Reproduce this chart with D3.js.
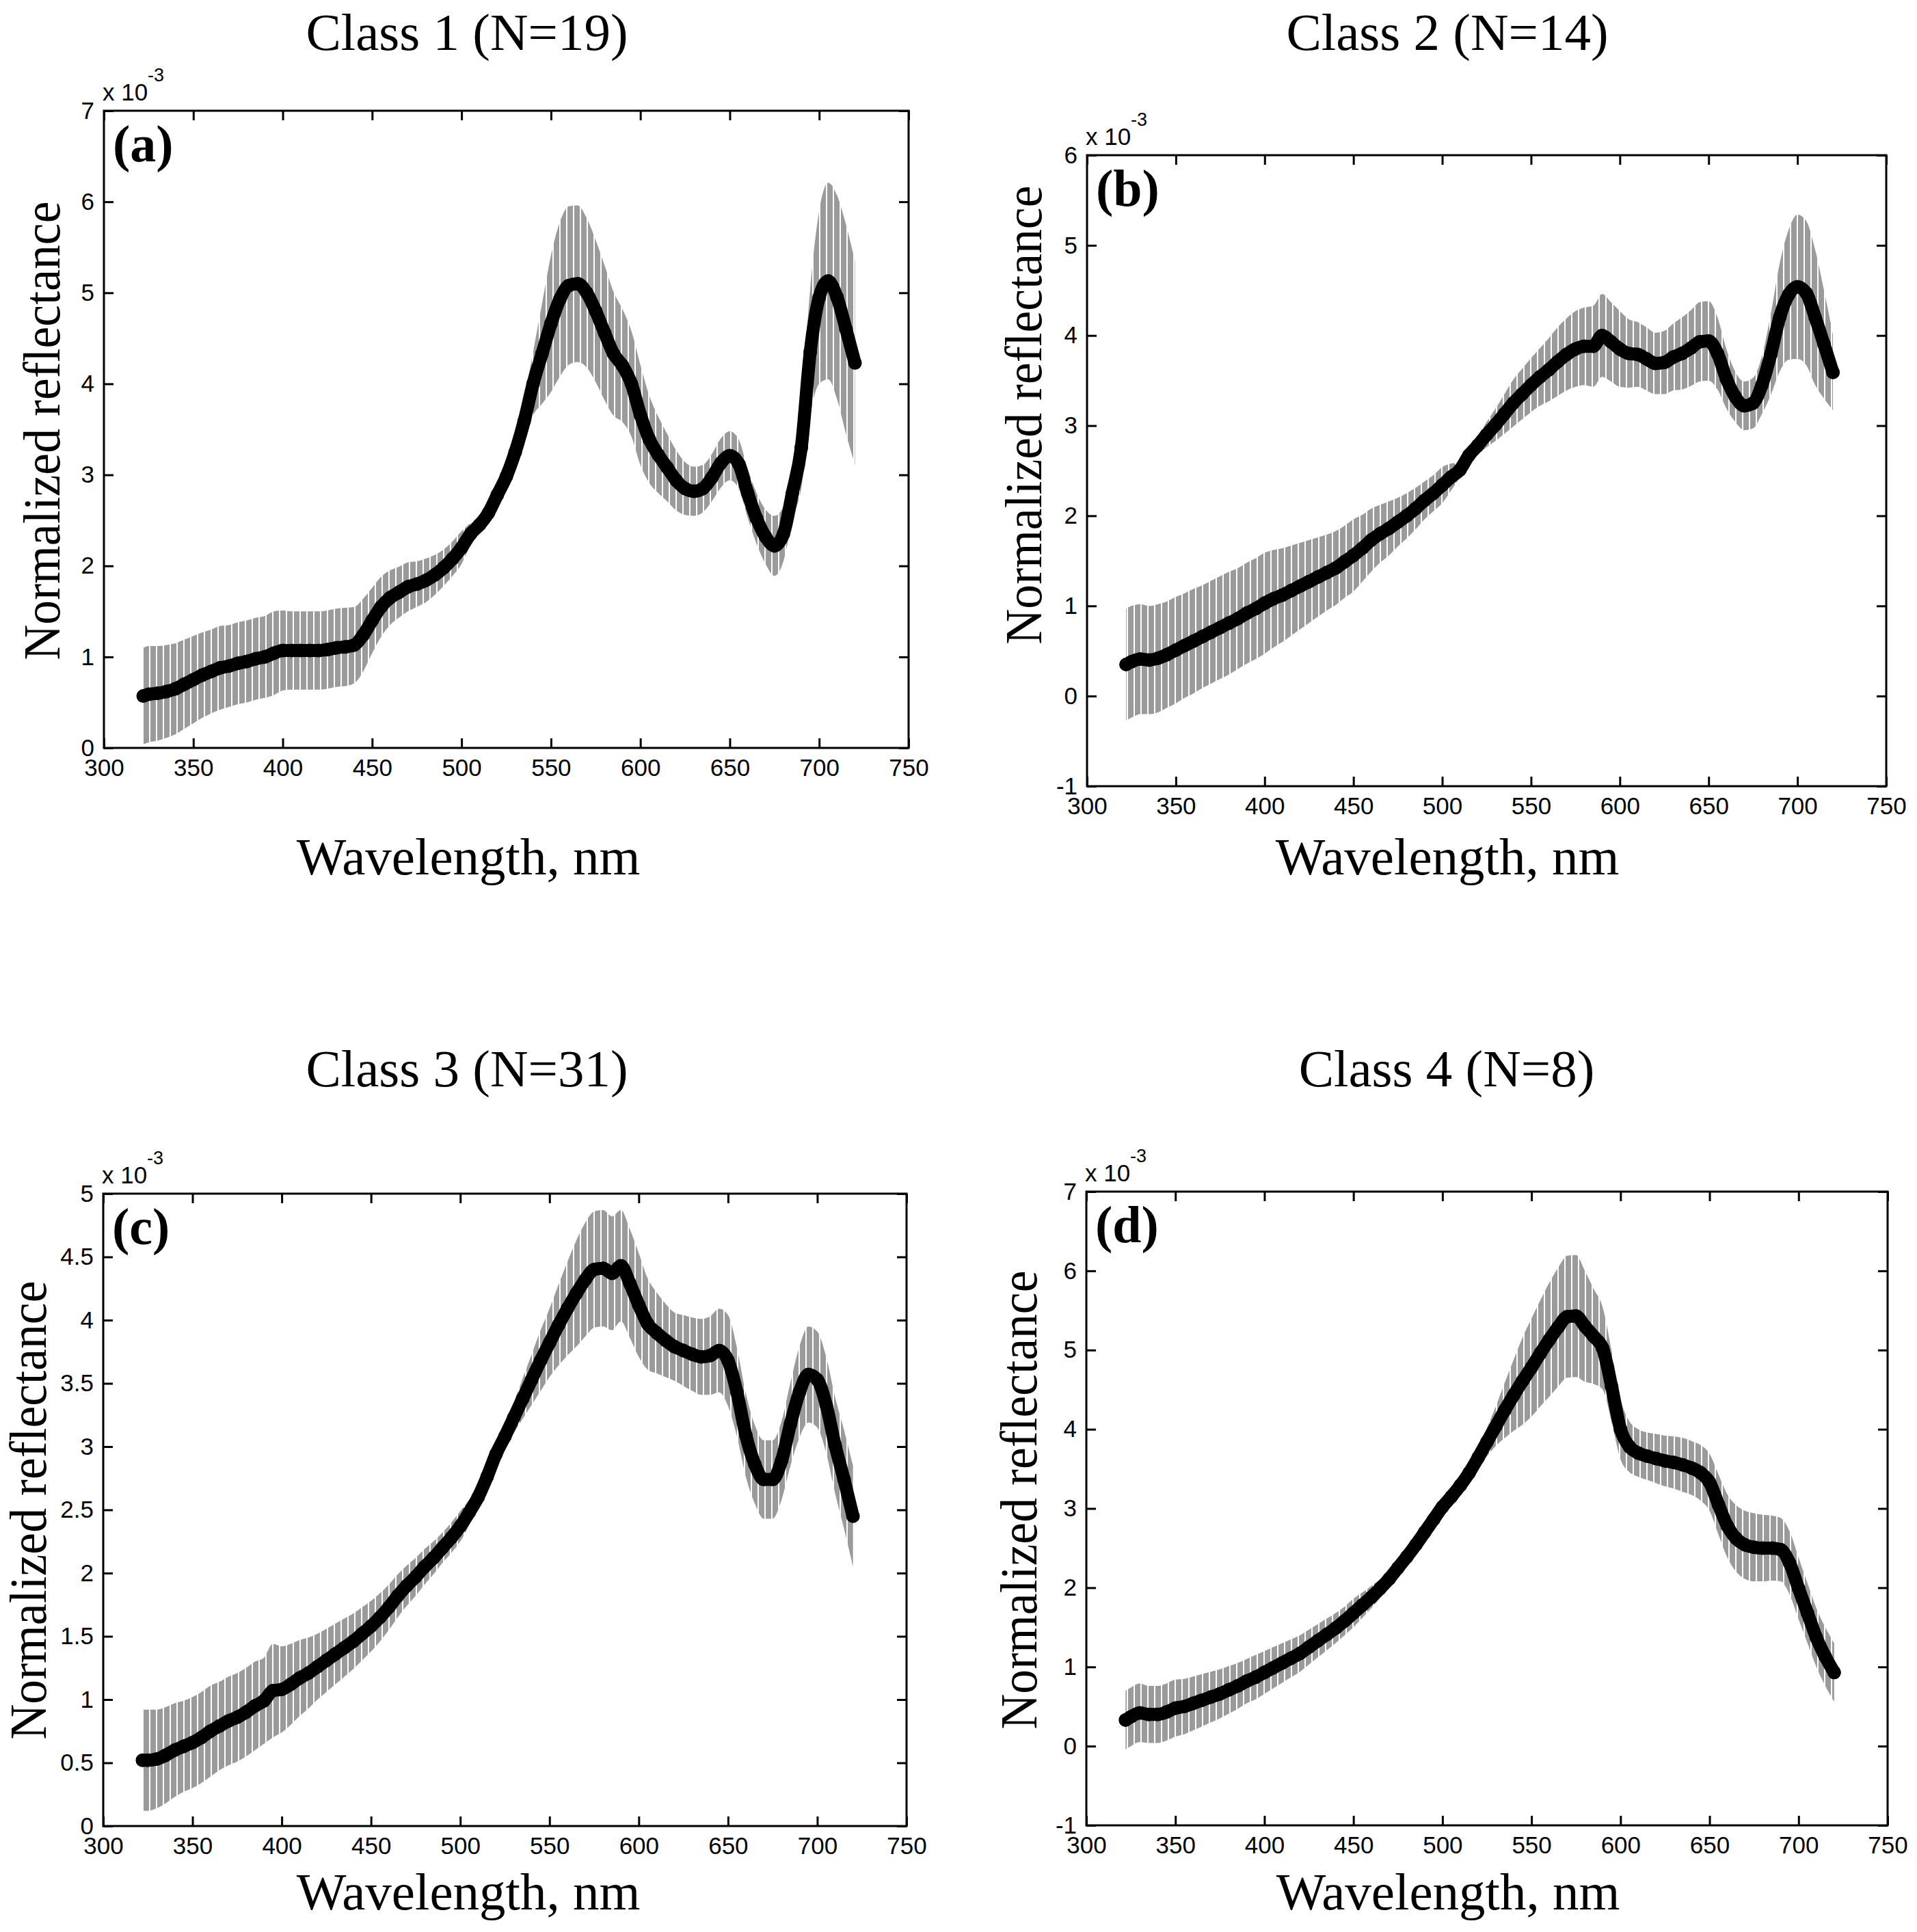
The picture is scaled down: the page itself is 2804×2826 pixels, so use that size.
<!DOCTYPE html>
<html lang="en">
<head>
<meta charset="UTF-8">
<title>Normalized reflectance by class</title>
<script src="https://d3js.org/d3.v7.min.js"></script>
<style>
  body { margin: 0; background: #fff; }
  .tick text { font-family: "Liberation Sans", Arial, sans-serif; font-size: 35px; fill: #000; }
  .tick line { stroke: #000; stroke-width: 3; }
  .serif { font-family: "Liberation Serif", "Times New Roman", serif; fill: #000; }
  .sans { font-family: "Liberation Sans", Arial, sans-serif; fill: #000; }
</style>
</head>
<body>
<div id="chart"></div>
<script>
// wavelengths (nm)
var wl = [322,325,330,335,340,345,350,355,360,365,
          370,375,380,385,390,395,400,405,410,415,
          420,425,430,435,440,445,450,455,460,465,
          470,475,480,485,490,495,500,505,510,515,
          520,525,530,535,540,545,550,555,560,565,
          570,575,580,585,590,595,600,605,610,615,
          620,625,630,635,640,645,650,655,660,665,
          670,675,680,685,690,695,700,705,710,715,
          720];

// mean normalized reflectance (x 1e-3) and standard deviation per class
var c1Mean = [0.57,0.59,0.60,0.62,0.65,0.70,0.75,0.80,0.84,0.88,
              0.90,0.93,0.95,0.98,1.00,1.04,1.07,1.07,1.07,1.07,
              1.07,1.08,1.10,1.11,1.13,1.24,1.40,1.55,1.65,1.71,
              1.77,1.80,1.84,1.90,1.98,2.08,2.20,2.35,2.45,2.58,
              2.78,2.98,3.25,3.59,4.00,4.33,4.66,4.93,5.08,5.10,
              5.00,4.80,4.56,4.33,4.20,4.00,3.66,3.39,3.22,3.08,
              2.94,2.85,2.82,2.85,2.97,3.13,3.21,3.12,2.80,2.52,
              2.32,2.22,2.35,2.80,3.30,4.35,4.95,5.13,4.95,4.60,
              4.23];
var c1Sd = [0.53,0.53,0.52,0.51,0.50,0.49,0.48,0.47,0.46,0.46,
            0.45,0.45,0.45,0.45,0.45,0.46,0.44,0.43,0.43,0.43,
            0.43,0.43,0.43,0.43,0.42,0.40,0.36,0.33,0.30,0.28,
            0.27,0.25,0.24,0.22,0.20,0.19,0.18,0.12,0.06,0.06,
            0.10,0.15,0.20,0.26,0.35,0.55,0.75,0.85,0.87,0.86,
            0.82,0.78,0.74,0.68,0.62,0.58,0.55,0.48,0.42,0.37,
            0.33,0.29,0.27,0.26,0.26,0.27,0.27,0.27,0.27,0.28,
            0.30,0.33,0.30,0.30,0.45,0.70,0.95,1.08,1.12,1.15,
            1.12];

var c2Mean = [0.35,0.38,0.41,0.40,0.42,0.46,0.51,0.56,0.61,0.66,
              0.71,0.76,0.81,0.86,0.92,0.97,1.03,1.08,1.12,1.17,
              1.22,1.27,1.32,1.37,1.42,1.49,1.56,1.64,1.73,1.80,
              1.86,1.93,2.00,2.08,2.17,2.25,2.34,2.43,2.51,2.67,
              2.78,2.90,3.01,3.13,3.25,3.35,3.45,3.54,3.62,3.71,
              3.79,3.85,3.88,3.88,4.00,3.93,3.85,3.80,3.79,3.74,
              3.69,3.70,3.76,3.80,3.86,3.93,3.94,3.80,3.52,3.32,
              3.22,3.25,3.45,3.79,4.20,4.45,4.54,4.47,4.20,3.90,
              3.59];
var c2Sd = [0.62,0.62,0.61,0.60,0.60,0.59,0.59,0.58,0.58,0.57,
            0.57,0.57,0.57,0.56,0.56,0.56,0.56,0.54,0.52,0.50,
            0.48,0.46,0.44,0.42,0.41,0.40,0.40,0.37,0.35,0.32,
            0.30,0.27,0.25,0.23,0.21,0.20,0.20,0.15,0.08,0.06,
            0.10,0.14,0.18,0.22,0.26,0.28,0.30,0.32,0.35,0.38,
            0.40,0.42,0.43,0.45,0.46,0.44,0.42,0.38,0.36,0.35,
            0.34,0.35,0.37,0.40,0.42,0.44,0.44,0.40,0.33,0.28,
            0.27,0.28,0.32,0.45,0.60,0.72,0.80,0.80,0.75,0.60,
            0.42];

var c3Mean = [0.52,0.52,0.53,0.56,0.60,0.63,0.66,0.70,0.75,0.79,
              0.83,0.86,0.90,0.95,0.99,1.07,1.08,1.12,1.17,1.21,
              1.26,1.31,1.36,1.41,1.46,1.52,1.58,1.65,1.73,1.82,
              1.90,1.97,2.05,2.12,2.20,2.28,2.37,2.48,2.60,2.76,
              2.94,3.08,3.23,3.38,3.53,3.68,3.82,3.96,4.09,4.21,
              4.32,4.40,4.41,4.37,4.43,4.29,4.12,3.97,3.90,3.84,
              3.79,3.76,3.73,3.71,3.72,3.76,3.68,3.43,3.09,2.86,
              2.74,2.74,2.89,3.18,3.43,3.57,3.53,3.33,3.01,2.74,
              2.45];
var c3Sd = [0.40,0.40,0.39,0.38,0.37,0.36,0.36,0.36,0.36,0.35,
            0.35,0.35,0.35,0.35,0.34,0.37,0.34,0.32,0.30,0.28,
            0.26,0.25,0.24,0.23,0.22,0.21,0.20,0.19,0.18,0.17,
            0.16,0.15,0.14,0.13,0.12,0.12,0.12,0.10,0.07,0.05,
            0.05,0.08,0.12,0.16,0.20,0.24,0.27,0.32,0.37,0.42,
            0.45,0.46,0.46,0.45,0.44,0.43,0.41,0.36,0.32,0.29,
            0.27,0.28,0.29,0.30,0.31,0.33,0.36,0.35,0.33,0.31,
            0.31,0.31,0.31,0.33,0.36,0.38,0.38,0.38,0.38,0.39,
            0.40];

var c4Mean = [0.33,0.37,0.42,0.40,0.40,0.43,0.48,0.50,0.54,0.58,
              0.62,0.66,0.71,0.76,0.82,0.87,0.93,0.99,1.05,1.11,
              1.17,1.25,1.33,1.41,1.49,1.58,1.68,1.78,1.88,1.99,
              2.11,2.25,2.39,2.54,2.70,2.86,3.02,3.15,3.29,3.45,
              3.64,3.84,4.04,4.24,4.43,4.61,4.78,4.96,5.13,5.29,
              5.42,5.43,5.30,5.17,5.02,4.54,4.00,3.78,3.70,3.66,
              3.63,3.60,3.58,3.55,3.51,3.45,3.33,3.05,2.78,2.62,
              2.54,2.51,2.50,2.50,2.48,2.31,1.99,1.68,1.37,1.13,
              0.93];
var c4Sd = [0.37,0.37,0.37,0.36,0.36,0.36,0.36,0.35,0.34,0.33,
            0.32,0.31,0.30,0.29,0.28,0.28,0.27,0.26,0.25,0.24,
            0.23,0.22,0.21,0.20,0.19,0.18,0.18,0.16,0.14,0.12,
            0.10,0.09,0.08,0.07,0.07,0.07,0.07,0.07,0.08,0.10,
            0.12,0.18,0.25,0.35,0.45,0.55,0.62,0.67,0.72,0.75,
            0.77,0.77,0.70,0.60,0.52,0.45,0.38,0.32,0.30,0.30,
            0.31,0.32,0.33,0.34,0.34,0.35,0.36,0.38,0.40,0.42,
            0.43,0.43,0.42,0.41,0.40,0.40,0.39,0.38,0.37,0.37,
            0.37];

var titles = ["Class 1 (N=19)", "Class 2 (N=14)", "Class 3 (N=31)", "Class 4 (N=8)"];
var tags = ["(a)", "(b)", "(c)", "(d)"];
var xTicks = [300,350,400,450,500,550,600,650,700,750];
var yTicksA = [0,1,2,3,4,5,6,7];
var yTicksB = [-1,0,1,2,3,4,5,6];
var yTicksC = [0,0.5,1,1.5,2,2.5,3,3.5,4,4.5,5];
var yTicksD = [-1,0,1,2,3,4,5,6,7];

// layout of the four panels (pixels)
var panels = [
  { mean: c1Mean, sd: c1Sd, yt: yTicksA, l: 152, r: 1329, t: 162, b: 1094,
    titleX: 683, titleY: 73, xlabX: 685, xlabY: 1279, ylabX: 87, ylabY: 630 },
  { mean: c2Mean, sd: c2Sd, yt: yTicksB, l: 1590, r: 2759, t: 227, b: 1150,
    titleX: 2117, titleY: 73, xlabX: 2117, xlabY: 1279, ylabX: 1523, ylabY: 607 },
  { mean: c3Mean, sd: c3Sd, yt: yTicksC, l: 151, r: 1326, t: 1746, b: 2671,
    titleX: 683, titleY: 1589, xlabX: 685, xlabY: 2793, ylabX: 67, ylabY: 2209 },
  { mean: c4Mean, sd: c4Sd, yt: yTicksD, l: 1589, r: 2761, t: 1743, b: 2670,
    titleX: 2116, titleY: 1589, xlabX: 2118, xlabY: 2793, ylabX: 1516, ylabY: 2194 }
];

var W = 2804, H = 2826;
var svg = d3.select("#chart").append("svg")
    .attr("width", W)
    .attr("height", H)
    .style("background", "#fff");

// vertical hatching like dense error bars
svg.append("defs").append("pattern")
    .attr("id", "bars")
    .attr("patternUnits", "userSpaceOnUse")
    .attr("width", 10).attr("height", 20)
  .append("rect")
    .attr("width", 8).attr("height", 20)
    .attr("fill", "#9a9a9a");

panels.forEach(function(p, i) {
  var x = d3.scaleLinear().domain([300, 750]).range([p.l, p.r]);
  var y = d3.scaleLinear().domain(d3.extent(p.yt)).range([p.b, p.t]);
  var pts = wl.map(function(w, k) { return { w: w, m: p.mean[k], s: p.sd[k] }; });

  var g = svg.append("g");

  // std band
  var band = d3.area()
      .x(function(d) { return x(d.w); })
      .y0(function(d) { return y(d.m - d.s); })
      .y1(function(d) { return y(d.m + d.s); })
      .curve(d3.curveMonotoneX);
  g.append("path").datum(pts)
      .attr("d", band)
      .attr("fill", "url(#bars)");

  // mean curve: heavy markers
  var line = d3.line()
      .x(function(d) { return x(d.w); })
      .y(function(d) { return y(d.m); })
      .curve(d3.curveMonotoneX);
  g.append("path").datum(pts)
      .attr("d", line)
      .attr("fill", "none")
      .attr("stroke", "#000")
      .attr("stroke-width", 19)
      .attr("stroke-linejoin", "round")
      .attr("stroke-linecap", "round");
  g.selectAll("circle").data(pts).enter().append("circle")
      .attr("cx", function(d) { return x(d.w); })
      .attr("cy", function(d) { return y(d.m); })
      .attr("r", 10)
      .attr("fill", "#000");

  // axes with inward ticks on all four sides
  var fmt = function(d) { return String(d); };
  g.append("g").attr("transform", "translate(0," + p.b + ")")
      .call(d3.axisBottom(x).tickValues(xTicks).tickFormat(fmt)
            .tickSizeInner(-14).tickSizeOuter(0).tickPadding(16));
  g.append("g").attr("transform", "translate(0," + p.t + ")")
      .call(d3.axisTop(x).tickValues(xTicks).tickFormat("")
            .tickSizeInner(-14).tickSizeOuter(0));
  g.append("g").attr("transform", "translate(" + p.l + ",0)")
      .call(d3.axisLeft(y).tickValues(p.yt).tickFormat(fmt)
            .tickSizeInner(-14).tickSizeOuter(0).tickPadding(14));
  g.append("g").attr("transform", "translate(" + p.r + ",0)")
      .call(d3.axisRight(y).tickValues(p.yt).tickFormat("")
            .tickSizeInner(-14).tickSizeOuter(0));
  g.selectAll(".domain").remove();

  g.append("rect")
      .attr("x", p.l).attr("y", p.t)
      .attr("width", p.r - p.l).attr("height", p.b - p.t)
      .attr("fill", "none")
      .attr("stroke", "#000")
      .attr("stroke-width", 3);

  // exponent label
  g.append("text").attr("class", "sans")
      .attr("x", p.l - 2).attr("y", p.t - 15)
      .style("font-size", "35px")
      .text("x 10");
  g.append("text").attr("class", "sans")
      .attr("x", p.l + 64).attr("y", p.t - 43)
      .style("font-size", "27px")
      .text("-3");

  // panel tag
  g.append("text").attr("class", "serif")
      .attr("x", p.l + 13).attr("y", p.t + 74)
      .style("font-size", "76px")
      .style("font-weight", "bold")
      .text(tags[i]);

  // title and axis labels
  g.append("text").attr("class", "serif")
      .attr("x", p.titleX).attr("y", p.titleY)
      .attr("text-anchor", "middle")
      .style("font-size", "77px")
      .text(titles[i]);
  g.append("text").attr("class", "serif")
      .attr("x", p.xlabX).attr("y", p.xlabY)
      .attr("text-anchor", "middle")
      .style("font-size", "77px")
      .text("Wavelength, nm");
  g.append("text").attr("class", "serif")
      .attr("transform", "translate(" + p.ylabX + "," + p.ylabY + ") rotate(-90)")
      .attr("text-anchor", "middle")
      .attr("textLength", 671)
      .attr("lengthAdjust", "spacingAndGlyphs")
      .style("font-size", "76px")
      .text("Normalized reflectance");
});
</script>
</body>
</html>
